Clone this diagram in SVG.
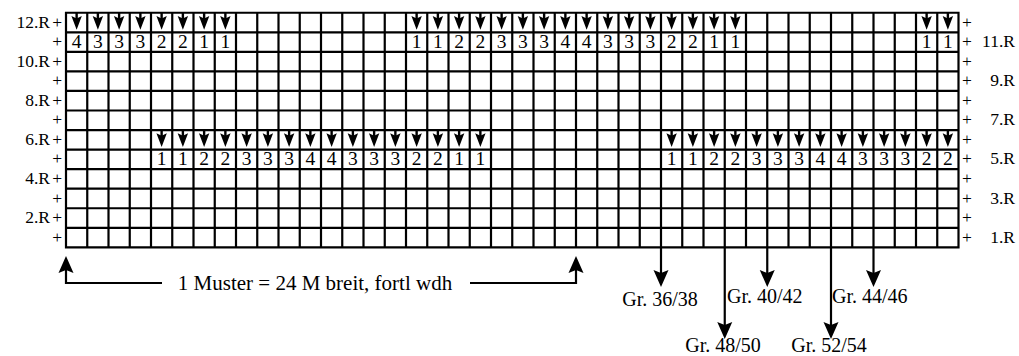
<svg xmlns="http://www.w3.org/2000/svg" xmlns:xlink="http://www.w3.org/1999/xlink" width="1019" height="356" viewBox="0 0 1019 356">
  <style>
    text { font-family: "Liberation Serif", "DejaVu Serif", serif; font-size: 20px; fill: #000; }
    .d { text-anchor: middle; font-size: 19.5px; }
    .r { font-size: 17.5px; }
    .e { text-anchor: end; }
    .m { text-anchor: middle; }
    .grid { fill: none; stroke: #000; stroke-width: 2.2; stroke-linecap: square; }
    .ln { fill: none; stroke: #000; stroke-width: 2.2; }
  </style>
  <defs>
    <!-- downward stitch arrow drawn from the top centre of a cell -->
    <g id="v">
      <path d="M0,0V8" stroke="#000" stroke-width="2.4"/>
      <path d="M-5.2,3.2 L0,5.8 L5.2,3.2 L0,17Z" fill="#000"/>
    </g>
    <marker id="ah" markerUnits="userSpaceOnUse" markerWidth="22" markerHeight="22" viewBox="-2 -10 22 20" refX="3" refY="0" orient="auto">
      <path d="M0,-7.5 L17,0 L0,7.5 L3,0Z" fill="#000"/>
    </marker>
  </defs>

  <!-- chart grid: 42 stitches x 12 rows -->
  <g id="grid">
    <path class="grid" d="M66,12.75H958.5M66,32.3H958.5M66,51.85H958.5M66,71.4H958.5M66,90.95H958.5M66,110.5H958.5M66,130.05H958.5M66,149.6H958.5M66,169.15H958.5M66,188.7H958.5M66,208.25H958.5M66,227.8H958.5M66,247.35H958.5
      M66,12.75V247.35M87.25,12.75V247.35M108.5,12.75V247.35M129.75,12.75V247.35M151,12.75V247.35M172.25,12.75V247.35M193.5,12.75V247.35M214.75,12.75V247.35M236,12.75V247.35M257.25,12.75V247.35M278.5,12.75V247.35M299.75,12.75V247.35M321,12.75V247.35M342.25,12.75V247.35M363.5,12.75V247.35M384.75,12.75V247.35M406,12.75V247.35M427.25,12.75V247.35M448.5,12.75V247.35M469.75,12.75V247.35M491,12.75V247.35M512.25,12.75V247.35M533.5,12.75V247.35M554.75,12.75V247.35M576,12.75V247.35M597.25,12.75V247.35M618.5,12.75V247.35M639.75,12.75V247.35M661,12.75V247.35M682.25,12.75V247.35M703.5,12.75V247.35M724.75,12.75V247.35M746,12.75V247.35M767.25,12.75V247.35M788.5,12.75V247.35M809.75,12.75V247.35M831,12.75V247.35M852.25,12.75V247.35M873.5,12.75V247.35M894.75,12.75V247.35M916,12.75V247.35M937.25,12.75V247.35M958.5,12.75V247.35"/>
  </g>

  <!-- row 12: arrows -->
  <g id="row12">
    <use xlink:href="#v" x="76.625" y="12.75"/><use xlink:href="#v" x="97.875" y="12.75"/><use xlink:href="#v" x="119.125" y="12.75"/><use xlink:href="#v" x="140.375" y="12.75"/>
    <use xlink:href="#v" x="161.625" y="12.75"/><use xlink:href="#v" x="182.875" y="12.75"/><use xlink:href="#v" x="204.125" y="12.75"/><use xlink:href="#v" x="225.375" y="12.75"/>
    <use xlink:href="#v" x="416.625" y="12.75"/><use xlink:href="#v" x="437.875" y="12.75"/><use xlink:href="#v" x="459.125" y="12.75"/><use xlink:href="#v" x="480.375" y="12.75"/>
    <use xlink:href="#v" x="501.625" y="12.75"/><use xlink:href="#v" x="522.875" y="12.75"/><use xlink:href="#v" x="544.125" y="12.75"/><use xlink:href="#v" x="565.375" y="12.75"/>
    <use xlink:href="#v" x="586.625" y="12.75"/><use xlink:href="#v" x="607.875" y="12.75"/><use xlink:href="#v" x="629.125" y="12.75"/><use xlink:href="#v" x="650.375" y="12.75"/>
    <use xlink:href="#v" x="671.625" y="12.75"/><use xlink:href="#v" x="692.875" y="12.75"/><use xlink:href="#v" x="714.125" y="12.75"/><use xlink:href="#v" x="735.375" y="12.75"/>
    <use xlink:href="#v" x="926.625" y="12.75"/><use xlink:href="#v" x="947.875" y="12.75"/>
  </g>

  <!-- row 11: counts -->
  <g id="row11">
    <text class="d" x="76.625 97.875 119.125 140.375 161.625 182.875 204.125 225.375" y="47.8">43332211</text>
    <text class="d" x="416.625 437.875 459.125 480.375 501.625 522.875 544.125 565.375 586.625 607.875 629.125 650.375 671.625 692.875 714.125 735.375" y="47.8">1122333443332211</text>
    <text class="d" x="926.625 947.875" y="47.8">11</text>
  </g>

  <!-- row 6: arrows -->
  <g id="row6">
    <use xlink:href="#v" x="161.625" y="130.05"/><use xlink:href="#v" x="182.875" y="130.05"/><use xlink:href="#v" x="204.125" y="130.05"/><use xlink:href="#v" x="225.375" y="130.05"/>
    <use xlink:href="#v" x="246.625" y="130.05"/><use xlink:href="#v" x="267.875" y="130.05"/><use xlink:href="#v" x="289.125" y="130.05"/><use xlink:href="#v" x="310.375" y="130.05"/>
    <use xlink:href="#v" x="331.625" y="130.05"/><use xlink:href="#v" x="352.875" y="130.05"/><use xlink:href="#v" x="374.125" y="130.05"/><use xlink:href="#v" x="395.375" y="130.05"/>
    <use xlink:href="#v" x="416.625" y="130.05"/><use xlink:href="#v" x="437.875" y="130.05"/><use xlink:href="#v" x="459.125" y="130.05"/><use xlink:href="#v" x="480.375" y="130.05"/>
    <use xlink:href="#v" x="671.625" y="130.05"/><use xlink:href="#v" x="692.875" y="130.05"/><use xlink:href="#v" x="714.125" y="130.05"/><use xlink:href="#v" x="735.375" y="130.05"/>
    <use xlink:href="#v" x="756.625" y="130.05"/><use xlink:href="#v" x="777.875" y="130.05"/><use xlink:href="#v" x="799.125" y="130.05"/><use xlink:href="#v" x="820.375" y="130.05"/>
    <use xlink:href="#v" x="841.625" y="130.05"/><use xlink:href="#v" x="862.875" y="130.05"/><use xlink:href="#v" x="884.125" y="130.05"/><use xlink:href="#v" x="905.375" y="130.05"/>
    <use xlink:href="#v" x="926.625" y="130.05"/><use xlink:href="#v" x="947.875" y="130.05"/>
  </g>

  <!-- row 5: counts -->
  <g id="row5">
    <text class="d" x="161.625 182.875 204.125 225.375 246.625 267.875 289.125 310.375 331.625 352.875 374.125 395.375 416.625 437.875 459.125 480.375" y="165.1">1122333443332211</text>
    <text class="d" x="671.625 692.875 714.125 735.375 756.625 777.875 799.125 820.375 841.625 862.875 884.125 905.375 926.625 947.875" y="165.1">11223334433322</text>
  </g>

  <!-- row numbers, left side -->
  <g id="labels-left">
    <text class="r e" x="50" y="27.5">12.R</text>
    <text class="r e" x="50" y="66.6">10.R</text>
    <text class="r e" x="50" y="105.7">8.R</text>
    <text class="r e" x="50" y="144.8">6.R</text>
    <text class="r e" x="50" y="183.9">4.R</text>
    <text class="r e" x="50" y="223">2.R</text>
    <text class="r e" x="62" y="27.5">+</text><text class="r e" x="62" y="47.1">+</text><text class="r e" x="62" y="66.6">+</text><text class="r e" x="62" y="86.2">+</text>
    <text class="r e" x="62" y="105.7">+</text><text class="r e" x="62" y="125.3">+</text><text class="r e" x="62" y="144.8">+</text><text class="r e" x="62" y="164.4">+</text>
    <text class="r e" x="62" y="183.9">+</text><text class="r e" x="62" y="203.5">+</text><text class="r e" x="62" y="223">+</text><text class="r e" x="62" y="242.6">+</text>
  </g>

  <!-- row numbers, right side -->
  <g id="labels-right">
    <text class="r" x="962" y="27.5">+</text><text class="r" x="962" y="47.1">+</text><text class="r" x="962" y="66.6">+</text><text class="r" x="962" y="86.2">+</text>
    <text class="r" x="962" y="105.7">+</text><text class="r" x="962" y="125.3">+</text><text class="r" x="962" y="144.8">+</text><text class="r" x="962" y="164.4">+</text>
    <text class="r" x="962" y="183.9">+</text><text class="r" x="962" y="203.5">+</text><text class="r" x="962" y="223">+</text><text class="r" x="962" y="242.6">+</text>
    <text class="r e" x="1015" y="47.1">11.R</text>
    <text class="r e" x="1015" y="86.2">9.R</text>
    <text class="r e" x="1015" y="125.3">7.R</text>
    <text class="r e" x="1015" y="164.4">5.R</text>
    <text class="r e" x="1015" y="203.5">3.R</text>
    <text class="r e" x="1015" y="242.6">1.R</text>
  </g>

  <!-- connectors: pattern repeat bracket and size start markers -->
  <g id="connectors">
    <path class="ln" d="M162,283H66V270" marker-end="url(#ah)"/>
    <path class="ln" d="M470,283H576V270" marker-end="url(#ah)"/>
    <path class="ln" d="M661,247.35V273" marker-end="url(#ah)"/>
    <path class="ln" d="M724.75,247.35V325" marker-end="url(#ah)"/>
    <path class="ln" d="M767.25,247.35V273" marker-end="url(#ah)"/>
    <path class="ln" d="M831,247.35V325" marker-end="url(#ah)"/>
    <path class="ln" d="M873.5,247.35V273" marker-end="url(#ah)"/>
  </g>

  <g id="repeat-label">
    <text class="m" x="315" y="289.5" style="font-size:21px">1 Muster = 24 M breit, fortl wdh</text>
  </g>

  <g id="sizes">
    <text class="m" x="660" y="305.5">Gr. 36/38</text>
    <text x="727" y="303">Gr. 40/42</text>
    <text x="832" y="303">Gr. 44/46</text>
    <text class="m" x="723" y="352">Gr. 48/50</text>
    <text class="m" x="829" y="352">Gr. 52/54</text>
  </g>
</svg>
